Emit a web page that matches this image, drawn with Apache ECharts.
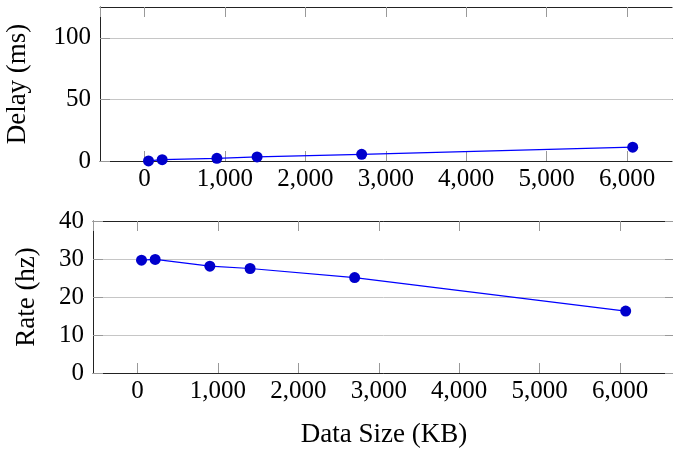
<!DOCTYPE html>
<html>
<head>
<meta charset="utf-8">
<script src="https://cdn.jsdelivr.net/npm/echarts@6/dist/echarts.min.js"></script>
<style>
  html, body { margin: 0; padding: 0; background: #fff; }
  #chart { width: 673px; height: 450px; }
</style>
</head>
<body>
<div id="chart"></div>
<script>
var dataSize = [50, 220, 900, 1400, 2700, 6070];
var delayMs = [0.1, 1.1, 2.2, 3.3, 5.4, 11.2];
var rateHz = [29.7, 29.9, 28.1, 27.5, 25.1, 16.3];

var FONT = "Liberation Serif";
var axisColor = "#222";
var tickColor = "#999";
var gridColor = "#c6c6c6";

function pairs(xs, ys) {
  return xs.map(function (x, i) { return [x, ys[i]]; });
}

function fmt(v) {
  return String(v).replace(/\B(?=(\d{3})+(?!\d))/g, ",");
}

function xAxisFor(gridIndex, pos, showLabels, name) {
  return {
    type: "value",
    gridIndex: gridIndex,
    position: pos,
    min: -553,
    max: 6683,
    splitNumber: 7,
    name: name || "",
    nameLocation: "middle",
    nameGap: 48,
    nameTextStyle: { fontFamily: FONT, fontSize: 27, color: "#000" },
    axisLine: { show: true, onZero: false, lineStyle: { color: axisColor, width: 1 } },
    axisTick: { show: true, inside: true, length: 10, lineStyle: { color: tickColor, width: 1 } },
    axisLabel: {
      show: showLabels,
      showMinLabel: false,
      showMaxLabel: false,
      margin: 6,
      fontFamily: FONT,
      fontSize: 25,
      color: "#000",
      formatter: fmt
    },
    splitLine: { show: false }
  };
}

function yAxisFor(gridIndex, pos, min, max, interval, showLabels, name, gap) {
  return {
    type: "value",
    gridIndex: gridIndex,
    position: pos,
    min: min,
    max: max,
    interval: interval,
    name: name || "",
    nameLocation: "middle",
    nameGap: gap || 0,
    nameTextStyle: { fontFamily: FONT, fontSize: 27, color: "#000" },
    axisLine: { show: true, onZero: false, lineStyle: { color: axisColor, width: 1 } },
    axisTick: { show: true, inside: true, length: 10, lineStyle: { color: tickColor, width: 1 } },
    axisLabel: {
      show: showLabels,
      showMaxLabel: max % interval === 0,
      margin: 9,
      fontFamily: FONT,
      fontSize: 25,
      color: "#000"
    },
    splitLine: { show: showLabels, lineStyle: { color: gridColor, width: 1 } }
  };
}

var myChart = echarts.init(document.getElementById("chart"), null, { renderer: "canvas" });
var option = {
  animation: false,
  backgroundColor: "#fff",
  grid: [
    { left: 100, top: 7, width: 582, height: 154, outerBoundsMode: "none" },
    { left: 93, top: 221, width: 582, height: 152, outerBoundsMode: "none" }
  ],
  xAxis: [
    xAxisFor(0, "bottom", true),
    xAxisFor(0, "top", false),
    xAxisFor(1, "bottom", true, "Data Size (KB)"),
    xAxisFor(1, "top", false)
  ],
  yAxis: [
    yAxisFor(0, "left", 0, 125, 50, true, "Delay (ms)", 69),
    yAxisFor(0, "right", 0, 125, 50, false),
    yAxisFor(1, "left", 0, 40, 10, true, "Rate (hz)", 53),
    yAxisFor(1, "right", 0, 40, 10, false)
  ],
  series: [
    {
      type: "line",
      xAxisIndex: 0,
      yAxisIndex: 0,
      data: pairs(dataSize, delayMs),
      symbol: "circle",
      symbolSize: 11,
      lineStyle: { color: "#0000ff", width: 1.2 },
      itemStyle: { color: "#0000cc" }
    },
    {
      type: "line",
      xAxisIndex: 2,
      yAxisIndex: 2,
      data: pairs(dataSize, rateHz),
      symbol: "circle",
      symbolSize: 11,
      lineStyle: { color: "#0000ff", width: 1.2 },
      itemStyle: { color: "#0000cc" }
    }
  ]
};
myChart.setOption(option);
</script>
</body>
</html>
